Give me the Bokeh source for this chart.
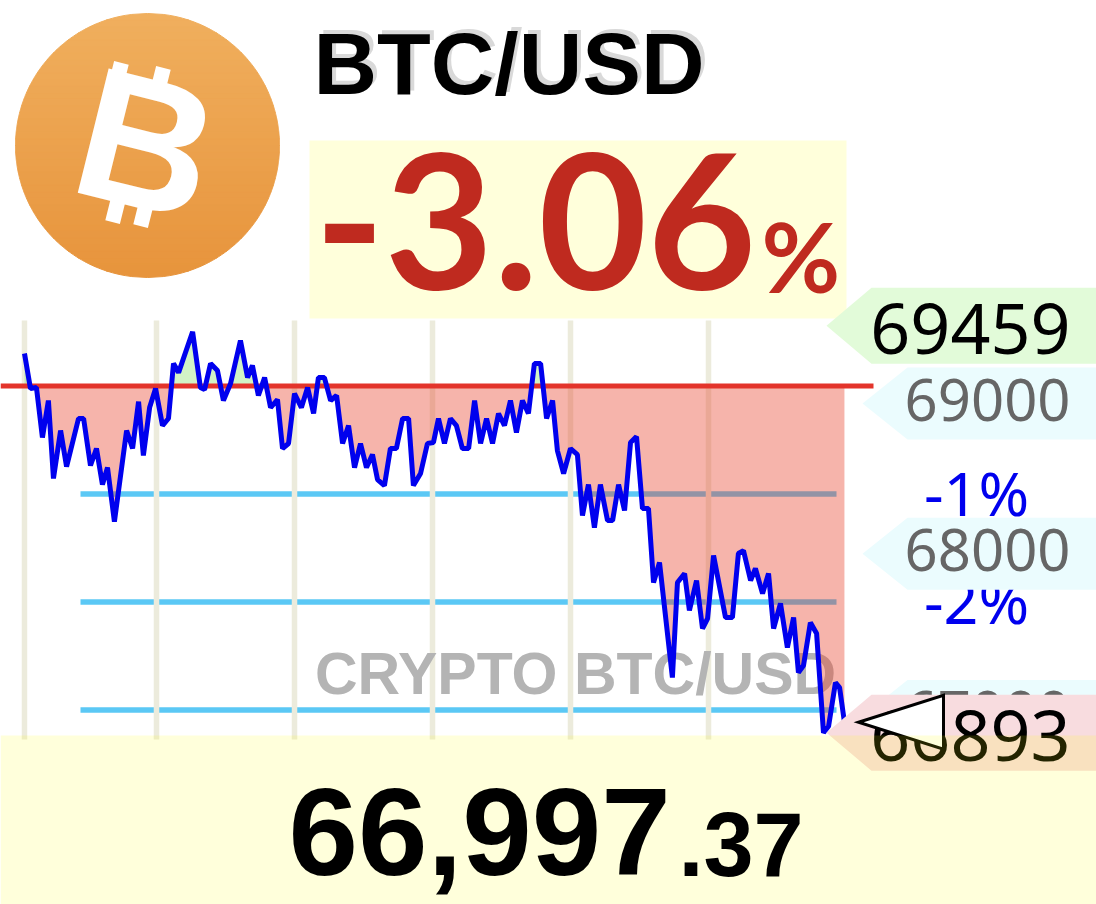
import numpy as np
from bokeh.plotting import figure
from bokeh.models import Range1d
from bokeh.core.properties import value
from bokeh.embed import file_html
from bokeh.resources import INLINE

# ---------------- data ----------------
symbol = "BTC/USD"
watermark = "CRYPTO BTC/USD"
change_pct = -3.06
last_price_int = "66,997"
last_price_dec = ".37"
prev_close = 69112
session_high = 69459
session_low = 66893
round_levels = [69000, 68000, 67000]
pct_levels = [-1, -2, -3]
grid_times = [2.6, 60, 120, 180, 240, 300]

times = [2.6, 5.2, 7.8, 10.4, 13.0, 15.2, 18.3, 20.9, 26.1, 28.3,
         31.3, 33.9, 36.5, 38.7, 41.7, 47.0, 49.6, 52.2, 54.3, 57.0,
         59.6, 62.6, 65.2, 67.4, 69.6, 75.7, 79.1, 80.9, 83.5, 86.5,
         89.1, 92.2, 96.5, 99.6, 101.7, 104.3, 107.0, 109.6, 112.6, 114.8,
         117.4, 120.0, 123.0, 125.7, 128.3, 130.4, 133.0, 135.7, 138.3, 140.9,
         143.5, 146.1, 148.7, 151.3, 153.9, 156.1, 159.1, 161.7, 164.3, 167.0,
         169.6, 171.7, 174.8, 177.8, 180.4, 182.6, 185.2, 187.8, 190.4, 193.0,
         195.7, 198.3, 200.9, 203.5, 206.1, 208.7, 211.3, 213.9, 216.5, 219.1,
         221.7, 224.3, 227.0, 229.6, 232.2, 234.3, 237.0, 240.0, 243.0, 245.2,
         247.8, 250.4, 253.0, 256.1, 258.3, 260.9, 263.5, 266.1, 268.7, 271.3,
         273.9, 276.1, 278.7, 284.3, 286.5, 289.6, 291.7, 294.8, 297.4, 299.6,
         302.2, 307.4, 310.4, 313.0, 315.2, 318.3, 320.4, 323.5, 326.1, 328.3,
         331.3, 334.3, 337.0, 339.1, 341.3, 344.3, 347.0, 350.0, 352.2, 355.2,
         357.0, 359.1]
prices = [69320, 69096, 69102, 68782, 69019, 68520, 68827, 68596, 68904, 68904,
          68603, 68712, 68481, 68590, 68244, 68827, 68712, 69012, 68667, 68974,
          69096, 68859, 68904, 69256, 69198, 69459, 69102, 69089, 69256, 69211,
          69019, 69128, 69403, 69166, 69243, 69051, 69166, 68974, 69025, 68712,
          68744, 69064, 68974, 69102, 68936, 69166, 69166, 69019, 69051, 68744,
          68859, 68590, 68744, 68590, 68673, 68513, 68475, 68712, 68712, 68904,
          68904, 68475, 68552, 68744, 68750, 68904, 68744, 68904, 68859, 68712,
          68712, 69019, 68744, 68904, 68744, 68936, 68859, 69019, 68814, 69019,
          68936, 69256, 69256, 68904, 69019, 68699, 68552, 68712, 68673, 68283,
          68481, 68206, 68481, 68251, 68251, 68481, 68315, 68750, 68788, 68328,
          68328, 67854, 67982, 67246, 67854, 67912, 67675, 67867, 67560, 67624,
          68027, 67630, 67630, 68040, 68059, 67867, 67944, 67784, 67912, 67560,
          67720, 67438, 67630, 67278, 67323, 67598, 67528, 66893, 66934, 67214,
          67182, 66960]

# ---------------- layout mapping (reference pixels -> data space) ----------------
PX_PER_MIN = 2.3
X_ORIGIN_PX = 18
USD_PER_PX = 6.4
REF_PX = 385.5


def X(px):
    return (px - X_ORIGIN_PX) / PX_PER_MIN


def Y(py):
    return prev_close - (py - REF_PX) * USD_PER_PX


def PY(price):
    return REF_PX + (prev_close - price) / USD_PER_PX


W, H = 1096, 904
p = figure(width=W, height=H,
           x_range=Range1d(X(0), X(W)), y_range=Range1d(Y(H), Y(0)),
           output_backend="svg", toolbar_location=None,
           x_axis_type=None, y_axis_type=None, min_border=0,
           outline_line_color=None, background_fill_color="white")
p.grid.visible = False

ARIAL = value("Liberation Sans")
SANS = value("Noto Sans")

# ---------------- logo (circle with soft vertical gradient) ----------------
cx, cy, r = 147, 145, 132
n_bands = 40
top_rgb = np.array([240, 175, 94])
bot_rgb = np.array([231, 148, 60])
band_xs, band_ys, band_cols = [], [], []
for i in range(n_bands):
    y_a = cy - r + 2 * r * i / n_bands
    y_b = cy - r + 2 * r * (i + 1) / n_bands
    yy = np.linspace(y_a, y_b, 8)
    half = np.sqrt(np.clip(r ** 2 - (yy - cy) ** 2, 0, None))
    xs = list(cx - half) + list((cx + half)[::-1])
    ys = list(yy) + list(yy[::-1])
    band_xs.append([X(v) for v in xs])
    band_ys.append([Y(v) for v in ys])
    c = top_rgb + (bot_rgb - top_rgb) * (i + 0.5) / n_bands
    band_cols.append("#%02x%02x%02x" % tuple(int(round(v)) for v in c))
p.patches(band_xs, band_ys, fill_color=band_cols, line_color=band_cols, line_width=1)

p.text(x=[X(146)], y=[Y(143)], text=["B"], text_font=ARIAL, text_font_style="bold",
       text_font_size=value("186px"), text_color="white", text_align="center",
       text_baseline="middle", angle=-0.244)
tick_px = [118, 160, 115, 143]
tick_py = [74, 79, 210, 214]
p.rect(x=[X(v) for v in tick_px], y=[Y(v) for v in tick_py], width=15, height=24,
       width_units="screen", height_units="screen", angle=-0.244,
       fill_color="white", line_color=None)

# ---------------- header ----------------
p.text(x=[X(317)], y=[Y(59)], text=[symbol], text_font=ARIAL, text_font_style="bold",
       text_font_size=value("88px"), text_color="#d9d9d9", text_baseline="middle")
p.text(x=[X(313)], y=[Y(63)], text=[symbol], text_font=ARIAL, text_font_style="bold",
       text_font_size=value("88px"), text_color="black", text_baseline="middle")

p.quad(left=[X(309)], right=[X(846)], top=[Y(140)], bottom=[Y(318)],
       fill_color="yellow", fill_alpha=0.14, line_color=None)
p.text(x=[X(314)], y=[Y(221)], text=[f"{change_pct:.2f}"], text_font=value("Lato"),
       text_font_style="bold", text_font_size=value("188px"), text_color="#bf2a1f",
       text_baseline="middle")
p.text(x=[X(761)], y=[Y(255)], text=["%"], text_font=value("Lato"),
       text_font_style="bold", text_font_size=value("96px"), text_color="#bf2a1f",
       text_baseline="middle")

# ---------------- chart body ----------------
pct_prices = [prev_close * (1 + k / 100.0) for k in pct_levels]
p.segment(x0=[X(80)] * 3, x1=[X(836)] * 3, y0=pct_prices, y1=pct_prices,
          line_color="#5bc8f5", line_width=5.5)
p.segment(x0=grid_times, x1=grid_times, y0=[Y(320)] * len(grid_times),
          y1=[Y(739)] * len(grid_times), line_color="#ecebdc", line_width=5.5)

p.text(x=[X(575)], y=[Y(673)], text=[watermark], text_font=ARIAL, text_font_style="bold",
       text_font_size=value("59px"), text_color="#b4b4b4", text_align="center",
       text_baseline="middle")

# fill between price and previous close (with crossing points)
tt, pp = [times[0]], [prices[0]]
for i in range(1, len(times)):
    a, b = prices[i - 1], prices[i]
    if (a - prev_close) * (b - prev_close) < 0:
        f = (prev_close - a) / (b - a)
        tt.append(times[i - 1] + f * (times[i] - times[i - 1]))
        pp.append(prev_close)
    tt.append(times[i])
    pp.append(b)
tt = np.array(tt)
pp = np.array(pp, dtype=float)
p.varea(x=tt, y1=np.full(len(tt), prev_close), y2=np.minimum(pp, prev_close),
        fill_color="#e8432e", fill_alpha=0.4)
p.varea(x=tt, y1=np.full(len(tt), prev_close), y2=np.maximum(pp, prev_close),
        fill_color="#8fe070", fill_alpha=0.4)

p.segment(x0=[X(0)], x1=[X(873)], y0=[prev_close], y1=[prev_close],
          line_color="#e3342b", line_width=5)
p.line(times, prices, line_color="#0000ee", line_width=5)

# ---------------- right-hand labels ----------------
for k, lv in zip(pct_levels, pct_prices):
    py = PY(lv)
    p.text(x=[X(976)], y=[Y(py - 1)], text=[f"{k}%"], text_font=SANS,
           text_font_size=value("61px"), text_color="#0000ee", text_align="center",
           text_baseline="middle")


def pentagon(py, tip, corner, hh):
    xs = [X(tip), X(corner), X(1100), X(1100), X(corner)]
    ys = [Y(py), Y(py - hh), Y(py - hh), Y(py + hh), Y(py + hh)]
    return xs, ys


level_nudge = [0, -6, 0]
for lv, nd in zip(round_levels, level_nudge):
    py = PY(lv) + nd
    xs, ys = pentagon(py, 862, 907, 36)
    p.patch(xs, ys, fill_color="#ebfcfe", line_color=None)
    p.text(x=[X(1070)], y=[Y(py - 4)], text=[str(lv)], text_font=SANS,
           text_font_size=value("58px"), text_color="#666666", text_align="right",
           text_baseline="middle")

hi_py = PY(session_high) - 6
xs, ys = pentagon(hi_py, 826, 871, 38)
p.patch(xs, ys, fill_color="#e2fbd9", line_color=None)
p.text(x=[X(1070)], y=[Y(hi_py + 3)], text=[str(session_high)], text_font=SANS,
       text_font_size=value("70px"), text_color="black", text_align="right",
       text_baseline="middle")

lo_py = PY(session_low)
xs, ys = pentagon(lo_py, 826, 871, 38)
p.patch(xs, ys, fill_color="#f8dcdf", line_color=None)
p.text(x=[X(1070)], y=[Y(lo_py + 3)], text=[str(session_low)], text_font=SANS,
       text_font_size=value("70px"), text_color="black", text_align="right",
       text_baseline="middle")

cur_py = PY(prices[-1])
p.patch([X(858), X(943), X(943)], [Y(cur_py), Y(cur_py - 27), Y(cur_py + 27)],
        fill_color="white", line_color="black", line_width=3, line_join="miter")

# ---------------- bottom price ----------------
p.quad(left=[X(0)], right=[X(1100)], top=[Y(735)], bottom=[Y(910)],
       fill_color="yellow", fill_alpha=0.14, line_color=None)
p.text(x=[X(288)], y=[Y(831)], text=[last_price_int], text_font=ARIAL, text_font_style="bold",
       text_font_size=value("125px"), text_color="black", text_baseline="middle")
p.text(x=[X(678)], y=[Y(844)], text=[last_price_dec], text_font=ARIAL, text_font_style="bold",
       text_font_size=value("90px"), text_color="black", text_baseline="middle")

open("out.html", "w").write(file_html(p, INLINE))
